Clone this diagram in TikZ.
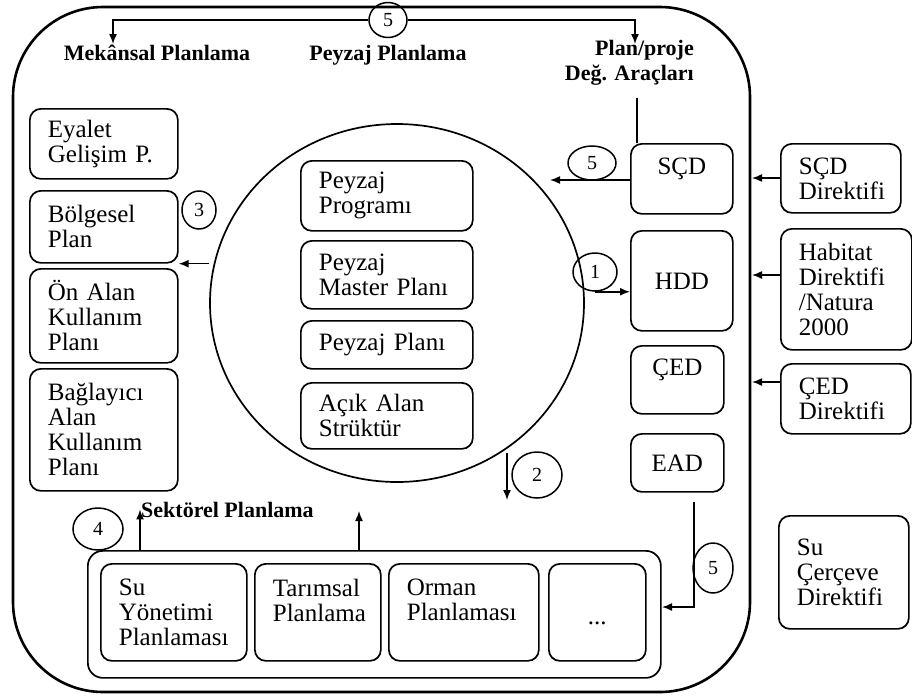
\documentclass[tikz,border=0pt]{standalone}
\usepackage{fontspec}
\setmainfont{Liberation Serif}
\usetikzlibrary{arrows.meta,positioning,calc,shapes.geometric}

\tikzset{
  box/.style 2 args={draw, line width=1.7pt, rounded corners=11pt, anchor=north west,
    align=left, inner xsep=18pt, inner ysep=1pt, text width=#1-36pt, minimum height=#2,
    font=\fontsize{25}{25}\selectfont},
  num/.style={draw, line width=1.5pt, ellipse, minimum width=44pt, minimum height=38pt,
    inner sep=0pt, font=\fontsize{20}{22}\selectfont},
  ttl/.style={font=\fontsize{22}{25}\selectfont\bfseries},
  arr/.style={line width=1.5pt, -{Latex[length=10pt,width=8pt]}},
  line/.style={line width=1.5pt},
}

\begin{document}
\begin{tikzpicture}[x=1pt, y=-1pt]
  \useasboundingbox (0,0) rectangle (912,697);

  % Outer frame
  \draw[line width=2.6pt, rounded corners=90pt] (13,7) rectangle (750,692);

  % Top titles
  \node[ttl, anchor=base] (mek) at (157,60) {Mekânsal Planlama};
  \node[ttl, anchor=base] (peyplan) at (388,60) {Peyzaj Planlama};
  \node[ttl, align=right, anchor=north east, inner sep=0pt] (araclar) at (694,40) {Plan/proje\\Değ. Araçları};
  \node[num, minimum width=38pt, minimum height=35pt] (top5) at (388,20) {5};
  \coordinate (mektip) at (113,44);
  \coordinate (aractip) at (635,44);
  \draw[arr] (top5.west) -| (mektip);
  \draw[arr] (top5.east) -| (aractip);

  % Left column
  \node[box={148}{70}] (eyalet) at (29,108) {Eyalet\\Gelişim P.};
  \node[box={148}{72}] (bolge) at (29,190) {Bölgesel\\Plan};
  \node[box={148}{94}] (onalan) at (29,268) {Ön Alan\\Kullanım\\Planı};
  \node[box={148}{122}] (bagla) at (29,368) {Bağlayıcı\\Alan\\Kullanım\\Planı};

  % Landscape circle
  \node[draw, line width=1.7pt, ellipse, minimum width=374pt, minimum height=358pt] (peyzaj) at (397,303) {};
  \node[box={172}{70}] (prog) at (300,160) {Peyzaj\\Programı};
  \node[box={172}{68}] (master) at (300,240) {Peyzaj\\Master Planı};
  \node[box={172}{48}] (pplan) at (300,320) {Peyzaj Planı};
  \node[box={172}{66}] (acik) at (300,382) {Açık Alan\\Strüktür};

  % Assessment tools
  \node[box={102}{70}, align=center] (scd) at (630,143) {SÇD\\\mbox{}};
  \node[box={102}{100}, align=center] (hdd) at (630,230) {HDD};
  \node[box={93}{68}, align=center] (ced) at (630,345) {ÇED\\\mbox{}};
  \node[box={93}{58}, align=center] (ead) at (630,433) {EAD};

  % Directives
  \node[box={120}{69}] (scddir) at (780,143) {SÇD\\Direktifi};
  \node[box={131}{121}] (habitat) at (780,228) {Habitat\\Direktifi\\/Natura\\2000};
  \node[box={130}{70}] (ceddir) at (780,363) {ÇED\\Direktifi};
  \node[box={130}{113}] (suce) at (778,515) {Su\\Çerçeve\\Direktifi};

  % Sectoral planning
  \node[ttl, anchor=base west, inner xsep=1pt] (sektorel) at (140,517) {Sektörel Planlama};
  \node[box={573}{127}, rounded corners=15pt] (sektor) at (87,550) {};
  \node[box={146}{97}] (suyon) at (100,563) {Su\\Yönetimi\\Planlaması};
  \node[box={126}{97}] (tarim) at (254,563) {Tarımsal\\Planlama\\\mbox{}};
  \node[box={150}{97}] (orman) at (388,563) {Orman\\Planlaması\\\mbox{}};
  \node[box={97}{97}, align=center] (diger) at (548,563) {\mbox{}\\...};

  % Numbered links
  \node[num, minimum width=48pt, minimum height=34pt] (n5a) at (592,163) {5};
  \coordinate (tocirc) at (550,180);
  \draw[arr] (scd.west |- tocirc) -- (tocirc);
  \coordinate (scdtop) at (637,98);
  \draw[line] (scdtop) -- (scdtop |- scd.north);

  \node[num] (n1) at (595,272) {1};
  \draw[arr] (n1.south) -- (n1.south -| hdd.west);

  \node[num, minimum width=34pt, minimum height=38pt] (n3) at (199,210) {3};
  \draw[arr] (peyzaj.west |- bolge.south) -- (bolge.south east);

  \node[num, minimum width=50pt, minimum height=46pt] (n2) at (537,475) {2};
  \coordinate (twotop) at (507,453);
  \coordinate (twotip) at (507,500);
  \draw[arr] (twotop) -- (twotip);

  \node[num, minimum width=50pt, minimum height=42pt] (n4) at (98,529) {4};
  \draw[arr] (sektor.north -| sektorel.west) -- (sektorel.west);
  \coordinate (up2) at (359,511);
  \draw[arr] (up2 |- sektor.north) -- (up2);

  \node[num, minimum width=40pt, minimum height=50pt] (n5b) at (713,568) {5};
  \coordinate (eadout) at (694,502);
  \coordinate (sekin) at (662,607);
  \draw[arr] (eadout) |- (sekin);

  % Directive arrows to frame
  \coordinate (fr1) at (752,178);
  \coordinate (fr2) at (752,275);
  \coordinate (fr3) at (752,382);
  \draw[arr] (scddir.west |- fr1) -- (fr1);
  \draw[arr] (habitat.west |- fr2) -- (fr2);
  \draw[arr] (ceddir.west |- fr3) -- (fr3);
\end{tikzpicture}
\end{document}
